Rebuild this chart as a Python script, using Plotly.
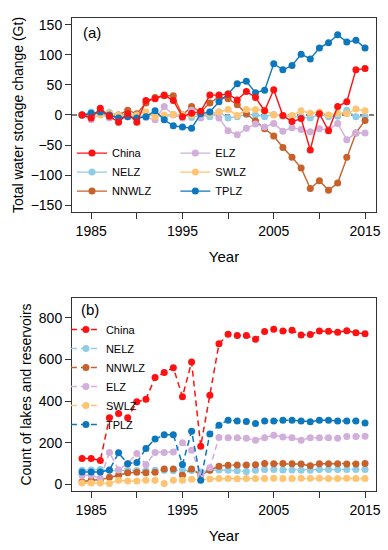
import plotly.graph_objects as go

years = list(range(1984, 2016))
series_names = ["China", "NELZ", "NNWLZ", "ELZ", "SWLZ", "TPLZ"]
colors = {"China": "#FF1111", "NELZ": "#8ECDE6", "NNWLZ": "#C8602A",
          "ELZ": "#D2AEDB", "SWLZ": "#FFC472", "TPLZ": "#0C77BD"}

# Panel (a): total water storage change (Gt)
storage_china = [0, -5, 11, -2, -12, 2, -12, 24, 27, 33, 24, -3, 3, 6, 33, 33,
                 35, 25, 39, 29, 7, 42, -1, -11, -6, -58, 2, -26, 14, 22, 75, 77]
storage_nelz = [0, 5, 3, 4, 0, 2, -3, -2, 0, -4, 1, 0, -4, 0, -3, 5,
                -5, -3, 1, 0, -3, 1, -2, -2, -3, -5, 1, -3, -2, 8, -3, -3]
storage_nnwlz = [0, -3, 5, -4, 0, 8, 2, 20, 29, 32, 32, 0, 14, 5, 20, 30,
                 27, 17, 2, -10, -23, -35, -54, -70, -88, -122, -109, -125, -113, -70, -30, -9]
storage_elz = [0, -8, 2, -5, -3, -3, -5, -4, -8, 14, 0, -5, 8, -5, 5, -5,
               -26, -33, -22, -15, -20, -14, -27, -21, -24, -28, -23, -24, -14, -41, -30, -30]
storage_swlz = [0, 2, 0, 3, 0, -2, 0, 5, -3, 0, 1, 0, 0, 2, 2, 5,
                9, -1, 9, 9, 8, 0, -1, -1, 7, 3, 5, 0, 3, 2, 10, 7]
storage_tplz = [0, 3, 5, 0, -5, -3, -5, -3, 7, -8, -18, -20, -22, 2, 5, 22,
                35, 52, 56, 37, 41, 85, 75, 82, 101, 93, 111, 120, 133, 121, 124, 111]

# Panel (b): count of lakes and reservoirs
count_china = [125, 125, 115, 320, 341, 320, 397, 409, 514, 538, 561, 421, 588, 184, 429, 675,
               721, 715, 715, 697, 734, 745, 737, 740, 718, 720, 737, 735, 731, 738, 728, 723]
count_nelz = [69, 70, 72, 68, 68, 68, 67, 67, 68, 68, 66, 70, 67, 60, 68, 70,
              69, 66, 62, 69, 72, 72, 70, 70, 69, 69, 72, 72, 72, 72, 72, 72]
count_nnwlz = [13, 21, 23, 35, 45, 56, 59, 57, 59, 75, 75, 45, 75, 45, 69, 88,
               93, 94, 94, 95, 101, 100, 101, 100, 98, 90, 100, 100, 100, 98, 98, 101]
count_elz = [45, 45, 30, 154, 70, 101, 149, 96, 154, 154, 156, 200, 165, 45, 80, 226,
             224, 224, 222, 213, 224, 237, 228, 224, 213, 224, 224, 224, 222, 230, 230, 232]
count_swlz = [8, 8, 8, 5, 21, 17, 17, 21, 21, 5, 21, 21, 25, 23, 27, 29,
              29, 28, 29, 29, 29, 30, 29, 29, 30, 30, 30, 29, 29, 30, 29, 29]
count_tplz = [60, 60, 60, 70, 152, 100, 106, 173, 218, 239, 239, 96, 256, 21, 243, 285,
              309, 305, 303, 293, 305, 305, 309, 309, 305, 301, 309, 309, 305, 305, 305, 295]

storage = {"China": storage_china, "NELZ": storage_nelz, "NNWLZ": storage_nnwlz,
           "ELZ": storage_elz, "SWLZ": storage_swlz, "TPLZ": storage_tplz}
counts = {"China": count_china, "NELZ": count_nelz, "NNWLZ": count_nnwlz,
          "ELZ": count_elz, "SWLZ": count_swlz, "TPLZ": count_tplz}

year_ticks = [1985, 1990, 1995, 2000, 2005, 2010, 2015]
year_labels = ["1985", "", "1995", "", "2005", "", "2015"]
storage_ticks = [-150, -100, -50, 0, 50, 100, 150]
count_ticks = [0, 200, 400, 600, 800]

FONT = "Liberation Sans, Arial, sans-serif"
draw_order = ["NELZ", "NNWLZ", "ELZ", "SWLZ", "TPLZ", "China"]
rank = {n: i + 1 for i, n in enumerate(series_names)}

fig = go.Figure()
for name in draw_order:
    fig.add_trace(go.Scatter(
        x=years, y=storage[name], name=name, mode="lines+markers",
        line=dict(color=colors[name], width=1.4),
        marker=dict(color=colors[name], size=7),
        xaxis="x", yaxis="y",
        legend="legend" if name in ("China", "NELZ", "NNWLZ") else "legend2",
        legendrank=rank[name]))
for name in draw_order:
    fig.add_trace(go.Scatter(
        x=years, y=counts[name], name=name, mode="lines+markers",
        line=dict(color=colors[name], width=1.5, dash="6px,4px"),
        marker=dict(color=colors[name], size=7),
        xaxis="x2", yaxis="y2", legend="legend3", legendrank=rank[name]))

axis_common = dict(showline=True, mirror=True, linecolor="#333333", linewidth=1,
                   ticks="outside", ticklen=6, tickcolor="#333333", showgrid=False,
                   zeroline=False, automargin=False, tickfont=dict(size=14, color="black"))
xcommon = dict(axis_common, range=[1982.9, 2016.2], tickvals=year_ticks, ticktext=year_labels,
               ticklabelstandoff=0,
               title=dict(text="Year", font=dict(size=15, color="black"), standoff=13))

leg_common = dict(bgcolor="rgba(0,0,0,0)", font=dict(size=11, color="black", family=FONT),
                  xanchor="left", yanchor="top", traceorder="normal")

fig.update_layout(
    width=388, height=550, margin=dict(l=72, r=12, t=18, b=59, autoexpand=False),
    paper_bgcolor="white", plot_bgcolor="white",
    font=dict(family=FONT, color="black"),
    xaxis=dict(xcommon, anchor="y", domain=[0, 1]),
    yaxis=dict(axis_common, anchor="x", domain=[0.5899, 1], range=[-161, 161],
               tickvals=storage_ticks,
               title=dict(text="Total water storage change (Gt)",
                          font=dict(size=14, color="black"), standoff=3)),
    xaxis2=dict(xcommon, anchor="y2", domain=[0, 1]),
    yaxis2=dict(axis_common, anchor="x2", domain=[0, 0.408], range=[-31, 895],
                tickvals=count_ticks,
                title=dict(text="Count of lakes and reservoirs",
                           font=dict(size=14, color="black"), standoff=3)),
    legend=dict(leg_common, x=0.0, y=0.745),
    legend2=dict(leg_common, x=0.34, y=0.745),
    legend3=dict(leg_common, x=-0.02, y=0.372),
    showlegend=True,
)

fig.add_shape(type="line", xref="x domain", yref="y", x0=0, x1=1, y0=0, y1=0,
              line=dict(color="black", width=1.2, dash="5px,4px"), layer="below")

fig.add_annotation(text="(a)", xref="x domain", yref="y domain", x=0.065, y=0.924,
                   xanchor="center", yanchor="middle",
                   showarrow=False, font=dict(size=15, color="black"))
fig.add_annotation(text="(b)", xref="x2 domain", yref="y2 domain", x=0.06, y=0.943,
                   xanchor="center", yanchor="middle",
                   showarrow=False, font=dict(size=15, color="black"))

fig.write_html("out.html", config={"displayModeBar": False},
               post_script="document.body.style.margin='0px';document.body.style.overflow='hidden';")
